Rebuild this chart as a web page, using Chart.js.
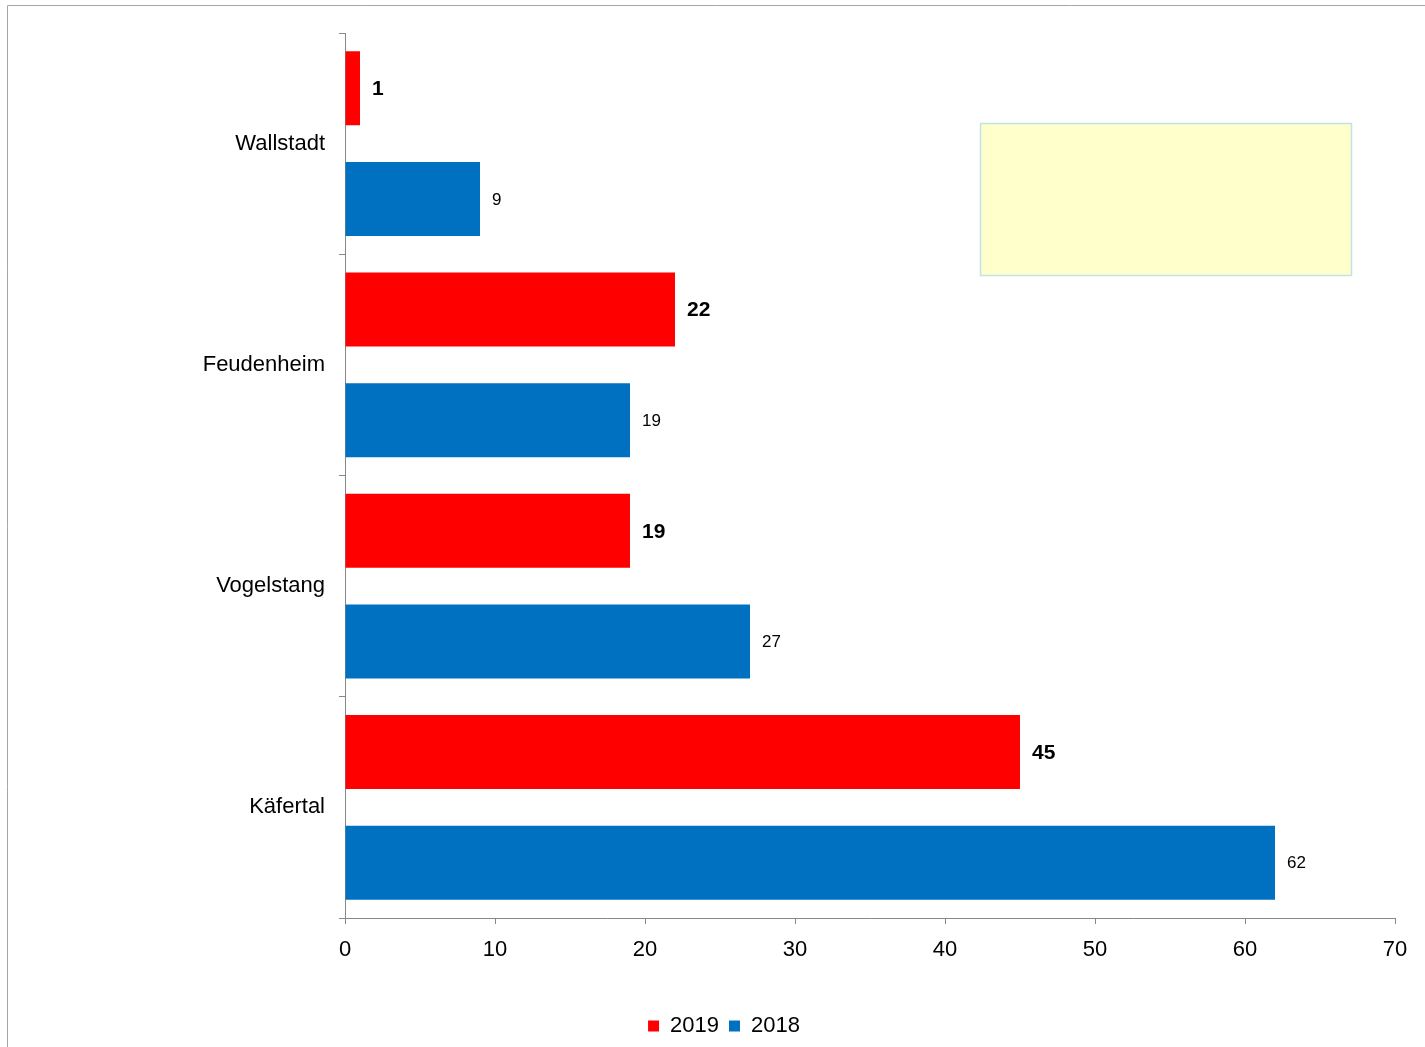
<!DOCTYPE html>
<html>
<head>
<meta charset="utf-8">
<script src="https://cdn.jsdelivr.net/npm/chart.js@4/dist/chart.umd.min.js"></script>
<style>
  html, body { margin: 0; padding: 0; background: #fff; }
  #wrap { width: 1425px; height: 1047px; position: relative; }
</style>
</head>
<body>
<div id="wrap"><canvas id="stadtChart" width="1425" height="1047"></canvas></div>
<script>
// Daten
const stadtteile = ["Wallstadt", "Feudenheim", "Vogelstang", "Käfertal"];
const werte2019 = [1, 22, 19, 45];
const werte2018 = [9, 19, 27, 62];
const jahre = ["2019", "2018"];
const xTicks = [0, 10, 20, 30, 40, 50, 60, 70];

const schrift = "Arial, 'Liberation Sans', sans-serif";

// Werte rechts neben die Balken schreiben
const wertLabels = {
  id: "wertLabels",
  afterDatasetsDraw(chart) {
    const ctx = chart.ctx;
    chart.data.datasets.forEach((ds, i) => {
      const meta = chart.getDatasetMeta(i);
      ctx.save();
      ctx.fillStyle = "#000";
      ctx.textBaseline = "middle";
      ctx.textAlign = "left";
      ctx.font = i === 0 ? "bold 21px " + schrift : "17px " + schrift;
      meta.data.forEach((bar, j) => {
        ctx.fillText(ds.data[j], bar.x + 12, bar.y + 1);
      });
      ctx.restore();
    });
  }
};

// Rahmen und leeres gelbes Feld
const deko = {
  id: "deko",
  beforeDraw(chart) {
    const ctx = chart.ctx;
    ctx.save();
    ctx.strokeStyle = "#a6a6a6";
    ctx.lineWidth = 1;
    ctx.beginPath();
    ctx.moveTo(7.5, 1047);
    ctx.lineTo(7.5, 5.5);
    ctx.lineTo(1425, 5.5);
    ctx.stroke();
    ctx.restore();
  },
  afterDraw(chart) {
    const ctx = chart.ctx;
    ctx.save();
    ctx.fillStyle = "#ffffcc";
    ctx.fillRect(980, 123, 372, 152);
    ctx.strokeStyle = "#c3e2e6";
    ctx.lineWidth = 1.5;
    ctx.strokeRect(980.5, 123.5, 371, 152);
    ctx.restore();
  }
};

const ctx = document.getElementById("stadtChart").getContext("2d");
const stadtChart = new Chart(ctx, {
  type: "bar",
  data: {
    labels: stadtteile,
    datasets: [
      {
        label: jahre[0],
        data: werte2019,
        backgroundColor: "#ff0000",
        categoryPercentage: 1.0,
        barPercentage: 0.67,
      },
      {
        label: jahre[1],
        data: werte2018,
        backgroundColor: "#0070c0",
        categoryPercentage: 1.0,
        barPercentage: 0.67,
      },
    ],
  },
  options: {
    indexAxis: "y",
    responsive: false,
    animation: false,
    layout: {
      padding: { top: 33, right: 30, bottom: 0, left: 53 },
    },
    scales: {
      x: {
        min: 0,
        max: 70,
        afterBuildTicks(scale) {
          scale.ticks = xTicks.map(v => ({ value: v }));
        },
        afterFit(scale) {
          scale.height = 87;
        },
        grid: {
          drawOnChartArea: false,
          tickLength: 6,
          color: "#888",
        },
        border: { color: "#888" },
        ticks: {
          color: "#000",
          padding: 13,
          font: { size: 22, family: schrift },
        },
      },
      y: {
        afterFit(scale) {
          scale.width = 292;
        },
        grid: {
          offset: true,
          drawOnChartArea: false,
          tickLength: 6,
          color: "#888",
        },
        border: { color: "#888" },
        ticks: {
          color: "#000",
          padding: 14,
          font: { size: 22, family: schrift },
        },
      },
    },
    plugins: {
      legend: {
        position: "bottom",
        labels: {
          boxWidth: 11,
          boxHeight: 11,
          padding: 10,
          color: "#000",
          font: { size: 22, family: schrift },
        },
      },
      tooltip: { enabled: false },
    },
  },
  plugins: [deko, wertLabels],
});
</script>
</body>
</html>
